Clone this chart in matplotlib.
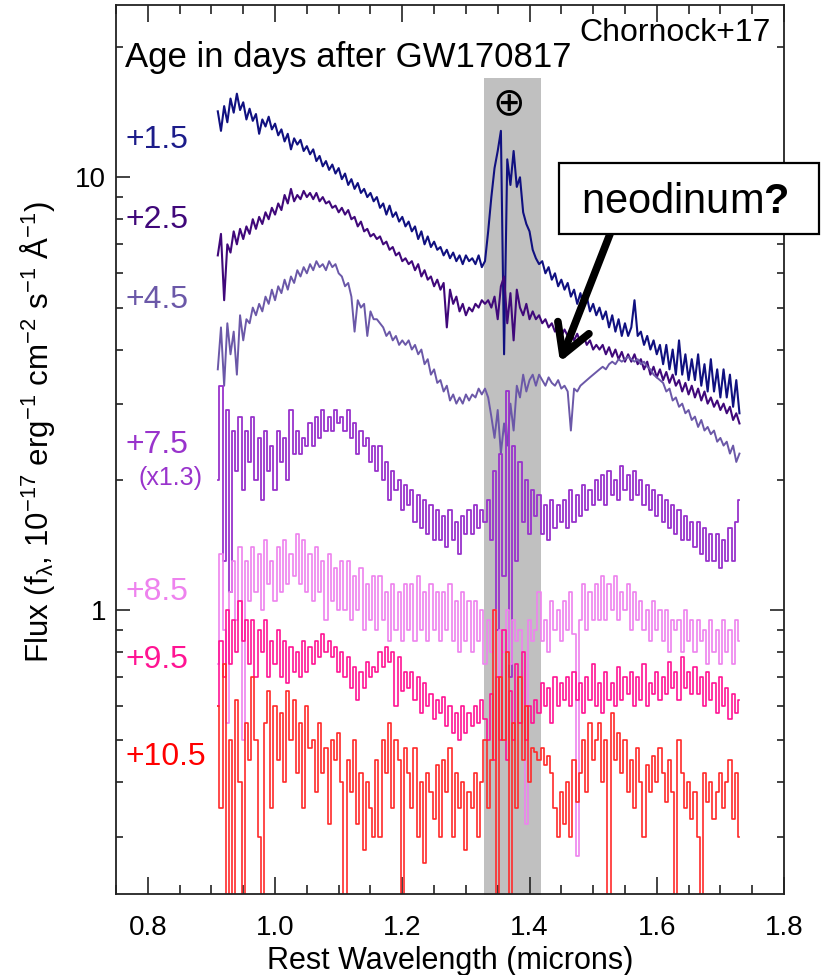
import numpy as np
import matplotlib; matplotlib.use('Agg')
from matplotlib import pyplot as plt
from matplotlib.patches import Rectangle
from matplotlib.ticker import MultipleLocator, FixedLocator, NullFormatter, FuncFormatter

plt.rcParams['font.family'] = ['Liberation Sans', 'DejaVu Sans']
plt.rcParams['mathtext.fontset'] = 'custom'
plt.rcParams['mathtext.rm'] = 'Liberation Sans'
plt.rcParams['mathtext.it'] = 'Liberation Sans:italic'
plt.rcParams['mathtext.bf'] = 'Liberation Sans:bold'

# binned spectra, 0.910 .. 1.730 micron in 0.005 micron bins (165 bins)
wave = np.round(np.arange(0.910, 1.7301, 0.005), 3)

flux_d15 = [
    14.2, 12.8, 14.6, 13.4, 15.2, 14.1, 15.6, 14.3, 14.9, 13.6,
    14.4, 13.5, 14.0, 12.6, 13.6, 13.1, 13.8, 12.9, 13.3, 12.5,
    12.9, 12.1, 12.6, 11.6, 12.3, 11.9, 12.2, 11.5, 11.8, 11.3,
    11.6, 10.9, 11.2, 10.6, 10.9, 10.4, 10.7, 10.2, 10.5, 9.9,
    10.2, 9.6, 9.9, 9.4, 9.7, 9.2, 9.4, 9.0, 9.2, 8.8,
    9.0, 8.5, 8.7, 8.2, 8.6, 8.1, 8.3, 7.9, 8.1, 7.7,
    7.9, 7.5, 7.7, 7.2, 7.5, 7.0, 7.3, 6.9, 7.1, 6.8,
    6.9, 6.6, 6.8, 6.5, 6.7, 6.4, 6.6, 6.3, 6.6, 6.4,
    6.5, 6.3, 6.6, 6.2, 6.4, 7.5, 9.0, 10.5, 11.5, 12.8,
    3.9, 11.0, 9.6, 11.5, 9.5, 10.0, 8.3, 7.8, 7.5, 6.8,
    6.5, 6.3, 6.4, 6.0, 6.2, 5.8, 6.0, 5.6, 5.8, 5.5,
    5.7, 5.3, 5.5, 5.1, 5.4, 5.0, 5.3, 4.9, 5.1, 4.8,
    5.0, 4.7, 4.9, 4.5, 4.8, 4.4, 4.7, 4.3, 4.6, 4.3,
    4.5, 5.2, 4.3, 4.4, 4.1, 4.3, 4.0, 4.2, 3.9, 4.1,
    3.7, 4.1, 3.6, 4.0, 3.5, 4.2, 3.5, 3.9, 3.4, 3.8,
    3.4, 3.9, 3.3, 3.7, 3.2, 3.8, 3.2, 3.6, 3.1, 3.6,
    3.1, 3.5, 2.95, 3.4, 2.85]

flux_d25 = [
    6.6, 7.4, 5.2, 7.0, 6.7, 7.5, 7.0, 7.6, 7.2, 7.7,
    7.4, 8.0, 7.6, 8.1, 7.8, 8.3, 8.0, 8.5, 8.2, 8.7,
    8.4, 9.1, 8.7, 9.4, 8.8, 9.1, 8.9, 9.3, 9.0, 9.2,
    8.9, 9.2, 8.8, 9.0, 8.7, 8.8, 8.5, 8.6, 8.3, 8.5,
    8.2, 8.4, 8.0, 8.1, 7.7, 7.9, 7.5, 7.6, 7.3, 7.4,
    7.2, 7.3, 7.0, 7.1, 6.8, 6.9, 6.6, 6.7, 6.4, 6.5,
    6.3, 6.4, 6.1, 6.3, 5.9, 6.1, 5.8, 5.9, 5.6, 5.8,
    5.5, 5.7, 4.5, 5.5, 5.1, 5.3, 4.9, 5.1, 4.8, 5.0,
    4.9, 5.1, 5.0, 5.2, 5.1, 5.2, 5.0, 5.3, 4.7, 5.6,
    5.9, 4.6, 5.4, 4.2, 5.5, 5.0, 4.8, 5.1, 4.7, 4.9,
    4.7, 4.8, 4.6, 4.7, 4.5, 4.6, 4.4, 4.5, 4.3, 4.45,
    4.3, 4.4, 4.2, 4.35, 4.15, 4.3, 4.1, 4.2, 4.0, 4.1,
    4.0, 4.1, 3.9, 4.05, 3.85, 4.0, 3.8, 3.95, 3.75, 3.9,
    3.75, 3.9, 3.7, 3.8, 3.6, 3.75, 3.5, 3.65, 3.45, 3.6,
    3.4, 3.55, 3.35, 3.5, 3.3, 3.4, 3.2, 3.35, 3.15, 3.3,
    3.1, 3.25, 3.05, 3.2, 3.0, 3.1, 2.95, 3.05, 2.9, 3.0,
    2.85, 2.95, 2.75, 2.85, 2.7]

flux_d45 = [
    3.6, 4.5, 3.3, 4.6, 3.9, 4.4, 3.5, 4.8, 4.2, 4.7,
    4.6, 5.0, 4.8, 5.1, 4.9, 5.3, 5.1, 5.5, 5.2, 5.6,
    5.4, 5.8, 5.5, 5.9, 5.7, 6.1, 5.9, 6.2, 6.0, 6.3,
    6.1, 6.4, 6.2, 6.3, 6.1, 6.4, 6.2, 6.3, 6.0, 5.9,
    5.6, 5.7, 5.3, 4.4, 5.2, 5.0, 5.1, 4.3, 4.9, 4.7,
    4.7, 4.6, 4.5, 4.3, 4.4, 4.2, 4.3, 4.1, 4.2, 4.1,
    4.2, 4.0, 4.1, 3.9, 4.0, 3.7, 3.8, 3.5, 3.6, 3.35,
    3.4, 3.2, 3.3, 3.05, 3.15, 3.0, 3.1, 3.0, 3.15, 3.05,
    3.15, 3.1, 3.25, 3.15, 3.25, 3.1, 2.8, 2.5, 2.9, 2.3,
    2.7, 2.4, 3.0, 2.6, 3.3, 3.1, 3.5, 3.2, 3.4, 3.5,
    3.3, 3.5, 3.4, 3.3, 3.45, 3.35, 3.3, 3.4, 3.25, 3.3,
    3.2, 2.6, 3.25, 3.2, 3.3, 3.35, 3.4, 3.45, 3.5, 3.55,
    3.6, 3.65, 3.6, 3.7, 3.75, 3.7, 3.8, 3.75, 3.8, 3.85,
    3.8, 3.75, 3.8, 3.7, 3.75, 3.65, 3.6, 3.5, 3.45, 3.4,
    3.35, 3.2, 3.25, 3.05, 3.1, 2.95, 3.0, 2.85, 2.9, 2.75,
    2.8, 2.65, 2.75, 2.6, 2.65, 2.55, 2.6, 2.45, 2.5, 2.4,
    2.45, 2.3, 2.4, 2.2, 2.3]

# +7.5 d spectrum, already scaled by 1.3
flux_d75 = [
    2.0, 3.3, 1.3, 2.9, 1.1, 2.6, 2.1, 2.8, 1.9, 2.6,
    2.2, 2.8, 2.0, 2.5, 1.8, 2.6, 2.1, 2.4, 1.9, 2.6,
    2.2, 2.5, 2.0, 2.9, 2.3, 2.6, 2.3, 2.5, 2.4, 2.7,
    2.4, 2.8, 2.5, 2.9, 2.6, 2.8, 2.6, 2.9, 2.7, 2.8,
    2.6, 2.9, 2.5, 2.7, 2.3, 2.6, 2.4, 2.5, 2.2, 2.4,
    2.1, 2.4, 2.0, 2.2, 1.8, 2.1, 1.9, 2.0, 1.7, 1.95,
    1.75, 1.9, 1.6, 1.85, 1.55, 1.8, 1.5, 1.75, 1.45, 1.7,
    1.45, 1.65, 1.4, 1.7, 1.45, 1.6, 1.35, 1.65, 1.5, 1.7,
    1.5, 1.75, 1.55, 1.7, 1.6, 1.8, 1.45, 2.1, 0.9, 2.3,
    1.2, 3.2, 0.7, 2.4, 1.3, 2.2, 1.6, 2.0, 1.5, 1.9,
    1.65, 1.85, 1.5, 1.75, 1.45, 1.8, 1.55, 1.75, 1.6, 1.8,
    1.55, 1.9, 1.6, 1.85, 1.65, 1.95, 1.7, 1.9, 1.75, 2.0,
    1.8, 2.05, 1.75, 2.1, 1.85, 2.0, 1.8, 2.15, 1.9, 2.05,
    1.8, 2.1, 1.85, 2.0, 1.75, 1.95, 1.7, 1.9, 1.65, 1.85,
    1.6, 1.8, 1.55, 1.75, 1.5, 1.7, 1.45, 1.65, 1.45, 1.6,
    1.4, 1.6, 1.35, 1.55, 1.3, 1.5, 1.3, 1.5, 1.25, 1.45,
    1.3, 1.55, 1.3, 1.6, 1.8]

flux_d85 = [
    0.75, 1.35, 0.9, 0.55, 1.1, 1.3, 0.95, 1.4, 0.5, 1.3,
    1.05, 1.4, 1.1, 1.35, 1.0, 1.45, 1.15, 1.3, 1.05, 1.4,
    1.1, 1.45, 1.15, 1.35, 1.2, 1.5, 1.15, 1.45, 1.1, 1.35,
    1.05, 1.4, 1.1, 1.3, 0.95, 1.35, 1.05, 1.25, 1.0, 1.3,
    1.0, 1.3, 0.95, 1.2, 1.0, 1.25, 0.9, 1.15, 0.95, 1.2,
    0.9, 1.2, 0.95, 1.1, 0.85, 1.15, 0.9, 1.1, 0.85, 1.15,
    0.9, 1.15, 0.85, 1.2, 0.9, 1.1, 0.85, 1.15, 0.9, 1.1,
    0.85, 1.1, 0.9, 1.15, 0.85, 1.05, 0.8, 1.1, 0.85, 1.05,
    0.8, 1.05, 0.85, 1.0, 0.75, 0.95, 0.8, 1.0, 0.7, 0.9,
    0.8, 1.0, 0.75, 0.95, 0.85, 0.9, 0.8, 0.32, 0.95, 0.85,
    0.9, 1.1, 0.85, 0.95, 0.8, 1.05, 0.9, 1.0, 0.85, 1.05,
    0.9, 1.1, 0.88, 0.27, 0.95, 1.15, 0.9, 1.1, 0.95, 1.15,
    0.95, 1.2, 0.95, 1.15, 1.0, 1.2, 0.95, 1.1, 1.0, 1.15,
    0.9, 1.1, 0.95, 1.05, 0.9, 1.0, 0.85, 1.05, 0.9, 1.0,
    0.85, 1.0, 0.8, 0.95, 0.9, 0.95, 0.8, 1.0, 0.85, 0.95,
    0.8, 0.95, 0.85, 0.9, 0.75, 0.95, 0.8, 0.9, 0.75, 0.95,
    0.8, 0.9, 0.75, 0.95, 0.85]

flux_d95 = [
    0.6, 0.85, 0.7, 1.0, 0.75, 0.95, 0.8, 1.05, 0.85, 0.95,
    0.75, 0.95, 0.7, 0.9, 0.8, 0.95, 0.7, 0.85, 0.75, 0.9,
    0.7, 0.85, 0.68, 0.82, 0.72, 0.8, 0.7, 0.85, 0.72, 0.82,
    0.75, 0.85, 0.78, 0.88, 0.8, 0.85, 0.78, 0.82, 0.72, 0.8,
    0.7, 0.78, 0.66, 0.74, 0.62, 0.72, 0.66, 0.76, 0.7, 0.74,
    0.72, 0.8, 0.74, 0.82, 0.76, 0.8, 0.6, 0.78, 0.65, 0.72,
    0.66, 0.72, 0.62, 0.7, 0.58, 0.68, 0.6, 0.64, 0.56, 0.62,
    0.58, 0.63, 0.54, 0.6, 0.52, 0.58, 0.5, 0.6, 0.52, 0.58,
    0.54, 0.6, 0.55, 0.62, 0.56, 0.5, 0.64, 0.45, 0.7, 0.5,
    0.9, 0.45, 0.65, 0.5, 0.75, 0.55, 0.8, 0.5, 0.6, 0.55,
    0.62, 0.58, 0.68, 0.6, 0.66, 0.55, 0.7, 0.6, 0.68, 0.62,
    0.7, 0.6, 0.72, 0.62, 0.68, 0.58, 0.7, 0.62, 0.75, 0.6,
    0.68, 0.58, 0.72, 0.62, 0.68, 0.6, 0.74, 0.62, 0.7, 0.64,
    0.72, 0.6, 0.7, 0.62, 0.75, 0.6, 0.68, 0.64, 0.72, 0.62,
    0.7, 0.64, 0.76, 0.66, 0.72, 0.62, 0.78, 0.66, 0.72, 0.64,
    0.74, 0.64, 0.7, 0.6, 0.72, 0.62, 0.68, 0.58, 0.7, 0.6,
    0.66, 0.56, 0.64, 0.58, 0.62]

flux_d105 = [
    0.6, 0.35, 0.75, 0.15, 0.5, 0.15, 0.62, 0.4, 0.15, 0.55,
    0.45, 0.7, 0.5, 0.3, 0.15, 0.55, 0.65, 0.35, 0.6, 0.45,
    0.58, 0.4, 0.65, 0.5, 0.62, 0.42, 0.55, 0.35, 0.6, 0.48,
    0.5, 0.38, 0.55, 0.42, 0.48, 0.32, 0.5, 0.45, 0.52, 0.4,
    0.15, 0.45, 0.38, 0.5, 0.32, 0.42, 0.28, 0.4, 0.35, 0.3,
    0.45, 0.3, 0.5, 0.42, 0.55, 0.35, 0.5, 0.45, 0.15, 0.48,
    0.42, 0.35, 0.48, 0.3, 0.4, 0.26, 0.42, 0.38, 0.33, 0.44,
    0.3, 0.45, 0.38, 0.48, 0.3, 0.42, 0.35, 0.4, 0.28, 0.38,
    0.35, 0.42, 0.3, 0.4, 0.5, 0.35, 0.45, 1.0, 0.15, 0.7,
    0.5, 0.8, 0.15, 0.55, 0.35, 0.7, 0.45, 0.6, 0.4, 0.48,
    0.47, 0.45, 0.48, 0.44, 0.46, 0.42, 0.35, 0.3, 0.38, 0.32,
    0.4, 0.3, 0.45, 0.36, 0.42, 0.5, 0.38, 0.55, 0.45, 0.5,
    0.55, 0.4, 0.5, 0.15, 0.58, 0.45, 0.52, 0.42, 0.5, 0.38,
    0.45, 0.35, 0.48, 0.4, 0.3, 0.44, 0.38, 0.46, 0.4, 0.48,
    0.42, 0.36, 0.45, 0.38, 0.15, 0.5, 0.42, 0.35, 0.4, 0.33,
    0.38, 0.3, 0.15, 0.42, 0.36, 0.4, 0.33, 0.38, 0.42, 0.35,
    0.4, 0.45, 0.33, 0.42, 0.3]

ages = ['+1.5', '+2.5', '+4.5', '+7.5', '+8.5', '+9.5', '+10.5']
spectra = [flux_d15, flux_d25, flux_d45, flux_d75, flux_d85, flux_d95, flux_d105]
colors = ['#101080', '#40087a', '#6b58a8', '#9933cc', '#ee82ee', '#ff1493', '#ff2a2a']
label_colors = ['#1c1c8a', '#40087a', '#6b58a8', '#9933cc', '#ee82ee', '#ff1493', '#ff0000']
# early (high S/N) spectra drawn as lines, later ones as histograms
drawstyles = ['default', 'default', 'default', 'steps-mid', 'steps-mid', 'steps-mid', 'steps-mid']
widths = [1.5, 1.5, 1.4, 1.3, 1.2, 1.2, 1.2]

# telluric band (microns)
telluric = (1.328, 1.418)

fig = plt.figure(figsize=(8.29, 9.75), dpi=100)
ax = fig.add_axes([116/829, 1 - 894/975, 668/829, 889/975])

ax.fill_between(telluric, 0.1, 17.0, color='#c0c0c0', lw=0, zorder=0)
ax.text(1.368, 14.8, '\u2295', ha='center', va='center', fontsize=28,
        family=['DejaVu Sans'])

for flux, c, ds, lw in zip(spectra, colors, drawstyles, widths):
    ax.plot(wave, flux, drawstyle=ds, color=c, lw=lw, zorder=2)

# age labels on the left (baseline positions in data units)
label_y = [11.67, 7.62, 4.98, 2.305, 1.054, 0.735, 0.4385]
for txt, yy, c in zip(ages, label_y, label_colors):
    ax.text(0.7642, yy, txt, color=c, fontsize=23, ha='left', va='baseline')
ax.text(0.786, 1.944, '(x1.3)', color=label_colors[3], fontsize=18,
        ha='left', va='baseline')

ax.text(0.0135, 0.930, 'Age in days after GW170817', transform=ax.transAxes,
        fontsize=25, ha='left', va='baseline')
ax.text(0.9805, 0.9595, 'Chornock+17', transform=ax.transAxes,
        fontsize=23, ha='right', va='baseline')

ax.set_yscale('log')
ax.set_xlim(0.75, 1.8)
ax.set_ylim(0.221, 25)

ax.xaxis.set_major_locator(MultipleLocator(0.2))
ax.xaxis.set_minor_locator(MultipleLocator(0.05))
ax.xaxis.set_major_formatter(FuncFormatter(lambda v, p: '%.1f' % v))
ax.yaxis.set_major_locator(FixedLocator([1, 10]))
ax.yaxis.set_minor_locator(FixedLocator([0.3, 0.4, 0.5, 0.6, 0.7, 0.8, 0.9,
                                         2, 3, 4, 5, 6, 7, 8, 9, 20]))
ax.yaxis.set_major_formatter(FuncFormatter(lambda v, p: '%g' % v))
ax.yaxis.set_minor_formatter(NullFormatter())

ax.tick_params(which='both', direction='in', top=True, right=True,
               width=1.2, colors='#222222', labelcolor='black', labelsize=20)
ax.tick_params(axis='x', which='major', length=12, pad=15)
ax.tick_params(axis='x', which='minor', length=6.5)
ax.tick_params(axis='y', which='major', length=10, pad=7)
ax.tick_params(axis='y', which='minor', length=5)
for sp in ax.spines.values():
    sp.set_linewidth(1.3)
    sp.set_color('#222222')

ax.set_xlabel('Rest Wavelength (microns)', fontsize=22, labelpad=4)
ax.set_ylabel(r'Flux (f$_{\mathregular{\lambda}}$, 10$^{-17}$ erg$^{-1}$ cm$^{-2}$ s$^{-1}$ '
              r'$\mathregular{\AA}^{-1}$)', fontsize=22.5)
ax.yaxis.set_label_coords(-0.088, 0.52)

# neodymium call-out box with arrow
fig.add_artist(Rectangle((559/829, 1 - 234/975), 260/829, 71/975,
                         transform=fig.transFigure, facecolor='white',
                         edgecolor='black', lw=1.6, zorder=5))
fig.text(685/829, 1 - 213/975, r'neodinum$\mathbf{?}$', ha='center',
         va='baseline', fontsize=30, zorder=6)
ax.annotate('', xy=(560/829, 1 - 362/975), xytext=(610/829, 1 - 234/975),
            xycoords='figure fraction', textcoords='figure fraction',
            arrowprops=dict(arrowstyle='->,head_length=0.7,head_width=0.4',
                            lw=5.5, color='black', mutation_scale=30,
                            shrinkA=0, shrinkB=0), zorder=6)

fig.savefig('out.png', dpi=100)
